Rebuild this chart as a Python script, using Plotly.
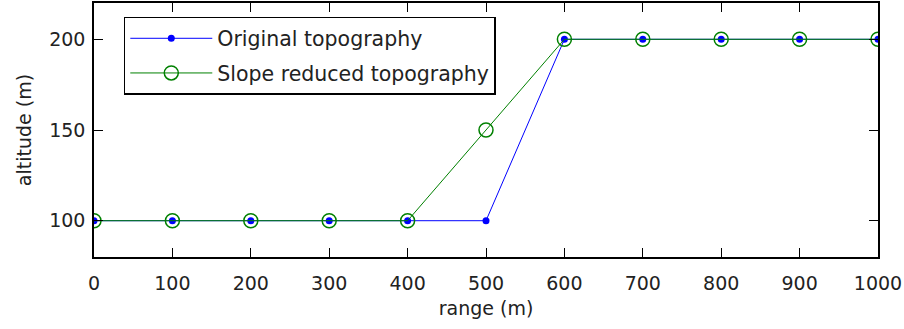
import plotly.graph_objects as go

range_m = [0, 100, 200, 300, 400, 500, 600, 700, 800, 900, 1000]
original_alt = [100, 100, 100, 100, 100, 100, 200, 200, 200, 200, 200]
reduced_alt = [100, 100, 100, 100, 100, 150, 200, 200, 200, 200, 200]
x_ticks = [0, 100, 200, 300, 400, 500, 600, 700, 800, 900, 1000]
y_ticks = [100, 150, 200]

BLUE = "#0000ff"
GREEN = "#008000"
FONT = "DejaVu Sans, Verdana, sans-serif"
FSIZE = 19
LEGEND_SIZE = 20.5

fig = go.Figure()
fig.add_trace(go.Scatter(
    x=range_m, y=original_alt, mode="lines+markers",
    name="Original topography", legendgroup="orig",
    line=dict(color=BLUE, width=1),
    marker=dict(symbol="circle", size=7, color=BLUE),
))
fig.add_trace(go.Scatter(
    x=range_m, y=reduced_alt, mode="lines+markers",
    name="Slope reduced topography", legendgroup="reduced",
    line=dict(color=GREEN, width=1),
    marker=dict(symbol="circle-open", size=14, color=GREEN, line=dict(width=1.5, color=GREEN)),
))

axis_common = dict(
    showgrid=False, zeroline=False, showline=True, mirror="ticks",
    linecolor="black", linewidth=1.5, ticks="inside", ticklen=9,
    tickwidth=1, tickcolor="black",
    tickfont=dict(family=FONT, size=FSIZE, color="#222"),
)

fig.update_layout(
    width=904, height=329,
    margin=dict(l=94, r=26, t=1, b=72),
    paper_bgcolor="white", plot_bgcolor="white",
    font=dict(family=FONT, size=FSIZE, color="#222"),
    xaxis=dict(range=[0, 1000], tickvals=x_ticks, ticklabelstandoff=8,
               title=dict(text="range (m)", standoff=9,
                          font=dict(family=FONT, size=FSIZE)),
               **axis_common),
    yaxis=dict(range=[80, 220], tickvals=y_ticks, ticklabelstandoff=3,
               title=dict(text="altitude (m)", standoff=13,
                          font=dict(family=FONT, size=FSIZE)),
               **axis_common),
    legend=dict(x=0.038, y=0.945, xanchor="left", yanchor="top",
                bgcolor="white", bordercolor="black", borderwidth=1.5,
                font=dict(family=FONT, size=LEGEND_SIZE, color="#222"),
                itemwidth=82, tracegroupgap=5),
    showlegend=True,
)

fig.write_html("out.html")
